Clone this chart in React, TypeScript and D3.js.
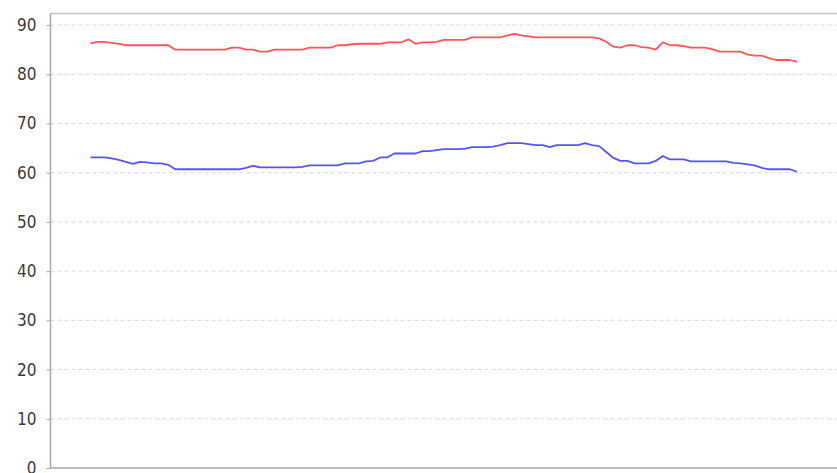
import React, { useEffect, useRef } from 'react';
import * as d3 from 'd3';

// sample index 0..100, one reading per step
const upperSeries = [
  86.3, 86.6, 86.6, 86.4, 86.2, 85.9, 85.9, 85.9, 85.9, 85.9,
  85.9, 85.9, 85.0, 85.0, 85.0, 85.0, 85.0, 85.0, 85.0, 85.0,
  85.4, 85.4, 85.0, 85.0, 84.6, 84.6, 85.0, 85.0, 85.0, 85.0,
  85.0, 85.4, 85.4, 85.4, 85.4, 85.9, 85.9, 86.1, 86.2, 86.2,
  86.2, 86.2, 86.5, 86.5, 86.5, 87.1, 86.2, 86.5, 86.5, 86.6,
  87.0, 87.0, 87.0, 87.0, 87.5, 87.5, 87.5, 87.5, 87.5, 87.9,
  88.2, 87.9, 87.7, 87.5, 87.5, 87.5, 87.5, 87.5, 87.5, 87.5,
  87.5, 87.5, 87.3, 86.6, 85.6, 85.4, 85.9, 85.9, 85.5, 85.4,
  85.0, 86.5, 85.9, 85.9, 85.7, 85.4, 85.4, 85.4, 85.1, 84.6,
  84.6, 84.6, 84.6, 84.0, 83.8, 83.8, 83.3, 82.9, 82.9, 82.9,
  82.5,
];

const lowerSeries = [
  63.1, 63.1, 63.1, 62.9, 62.6, 62.2, 61.8, 62.2, 62.1, 61.9,
  61.9, 61.6, 60.7, 60.7, 60.7, 60.7, 60.7, 60.7, 60.7, 60.7,
  60.7, 60.7, 61.0, 61.4, 61.1, 61.1, 61.1, 61.1, 61.1, 61.1,
  61.2, 61.5, 61.5, 61.5, 61.5, 61.5, 61.9, 61.9, 61.9, 62.3,
  62.4, 63.1, 63.1, 63.9, 63.9, 63.9, 63.9, 64.4, 64.4, 64.6,
  64.8, 64.8, 64.8, 64.9, 65.2, 65.2, 65.2, 65.3, 65.6, 66.0,
  66.0, 66.0, 65.8, 65.6, 65.6, 65.2, 65.6, 65.6, 65.6, 65.6,
  66.0, 65.6, 65.4, 64.2, 63.0, 62.4, 62.4, 61.9, 61.9, 61.9,
  62.4, 63.4, 62.7, 62.7, 62.7, 62.3, 62.3, 62.3, 62.3, 62.3,
  62.3, 62.0, 61.9, 61.7, 61.5, 61.0, 60.7, 60.7, 60.7, 60.7,
  60.2,
];

const yTicks = [0, 10, 20, 30, 40, 50, 60, 70, 80, 90];
const yMax = 92.35;

const App: React.FC = () => {
  const svgRef = useRef<SVGSVGElement>(null);

  useEffect(() => {
    if (!svgRef.current) return;
    const svg = d3.select(svgRef.current);
    svg.selectAll('*').remove();

    const width = 837;
    const height = 473;
    const margin = { top: 13.5, right: 0, bottom: 5, left: 50.5 };
    const innerPad = 40;

    const y = d3.scaleLinear()
      .domain([0, yMax])
      .range([height - margin.bottom, margin.top]);

    const x = d3.scaleLinear()
      .domain([0, upperSeries.length - 1])
      .range([margin.left + innerPad, width - margin.right - innerPad]);

    // grid
    svg.append('g')
      .selectAll('line')
      .data(yTicks.filter(d => d > 0))
      .enter()
      .append('line')
      .attr('x1', margin.left)
      .attr('x2', width)
      .attr('y1', d => y(d))
      .attr('y2', d => y(d))
      .attr('stroke', '#d9d9d9')
      .attr('stroke-width', 1)
      .attr('stroke-dasharray', '4,3');

    // top border
    svg.append('line')
      .attr('x1', margin.left)
      .attr('x2', width)
      .attr('y1', margin.top)
      .attr('y2', margin.top)
      .attr('stroke', '#c4c4c4')
      .attr('stroke-width', 1.5);

    // bottom axis line
    svg.append('line')
      .attr('x1', margin.left)
      .attr('x2', width)
      .attr('y1', y(0))
      .attr('y2', y(0))
      .attr('stroke', '#a8a8a8')
      .attr('stroke-width', 1.5);

    // y axis
    const yAxis = svg.append('g')
      .attr('transform', `translate(${margin.left},0)`)
      .call(d3.axisLeft(y).tickValues(yTicks).tickSize(4).tickPadding(10).tickFormat(d3.format('d')));
    yAxis.select('.domain')
      .attr('d', `M0,${margin.top}V${y(0)}`)
      .attr('stroke', '#a8a8a8')
      .attr('stroke-width', 1.5);
    yAxis.selectAll('.tick line').attr('stroke', '#a8a8a8');
    yAxis.selectAll('.tick text')
      .attr('fill', '#3a3a3a')
      .style('font-family', '"DejaVu Sans Condensed", "DejaVu Sans", sans-serif')
      .style('font-size', '17px');

    const line = d3.line<number>()
      .x((_, i) => x(i))
      .y(d => y(d));

    const series = [
      { values: upperSeries, color: '#ff5555' },
      { values: lowerSeries, color: '#5555ff' },
    ];

    svg.append('g')
      .selectAll('path')
      .data(series)
      .enter()
      .append('path')
      .attr('d', d => line(d.values))
      .attr('fill', 'none')
      .attr('stroke', d => d.color)
      .attr('stroke-width', 1.8)
      .attr('stroke-linejoin', 'round');
  }, []);

  return (
    <svg
      ref={svgRef}
      width={837}
      height={473}
      style={{ position: 'absolute', left: 0, top: 0, display: 'block', background: '#fff' }}
    />
  );
};

export default App;
